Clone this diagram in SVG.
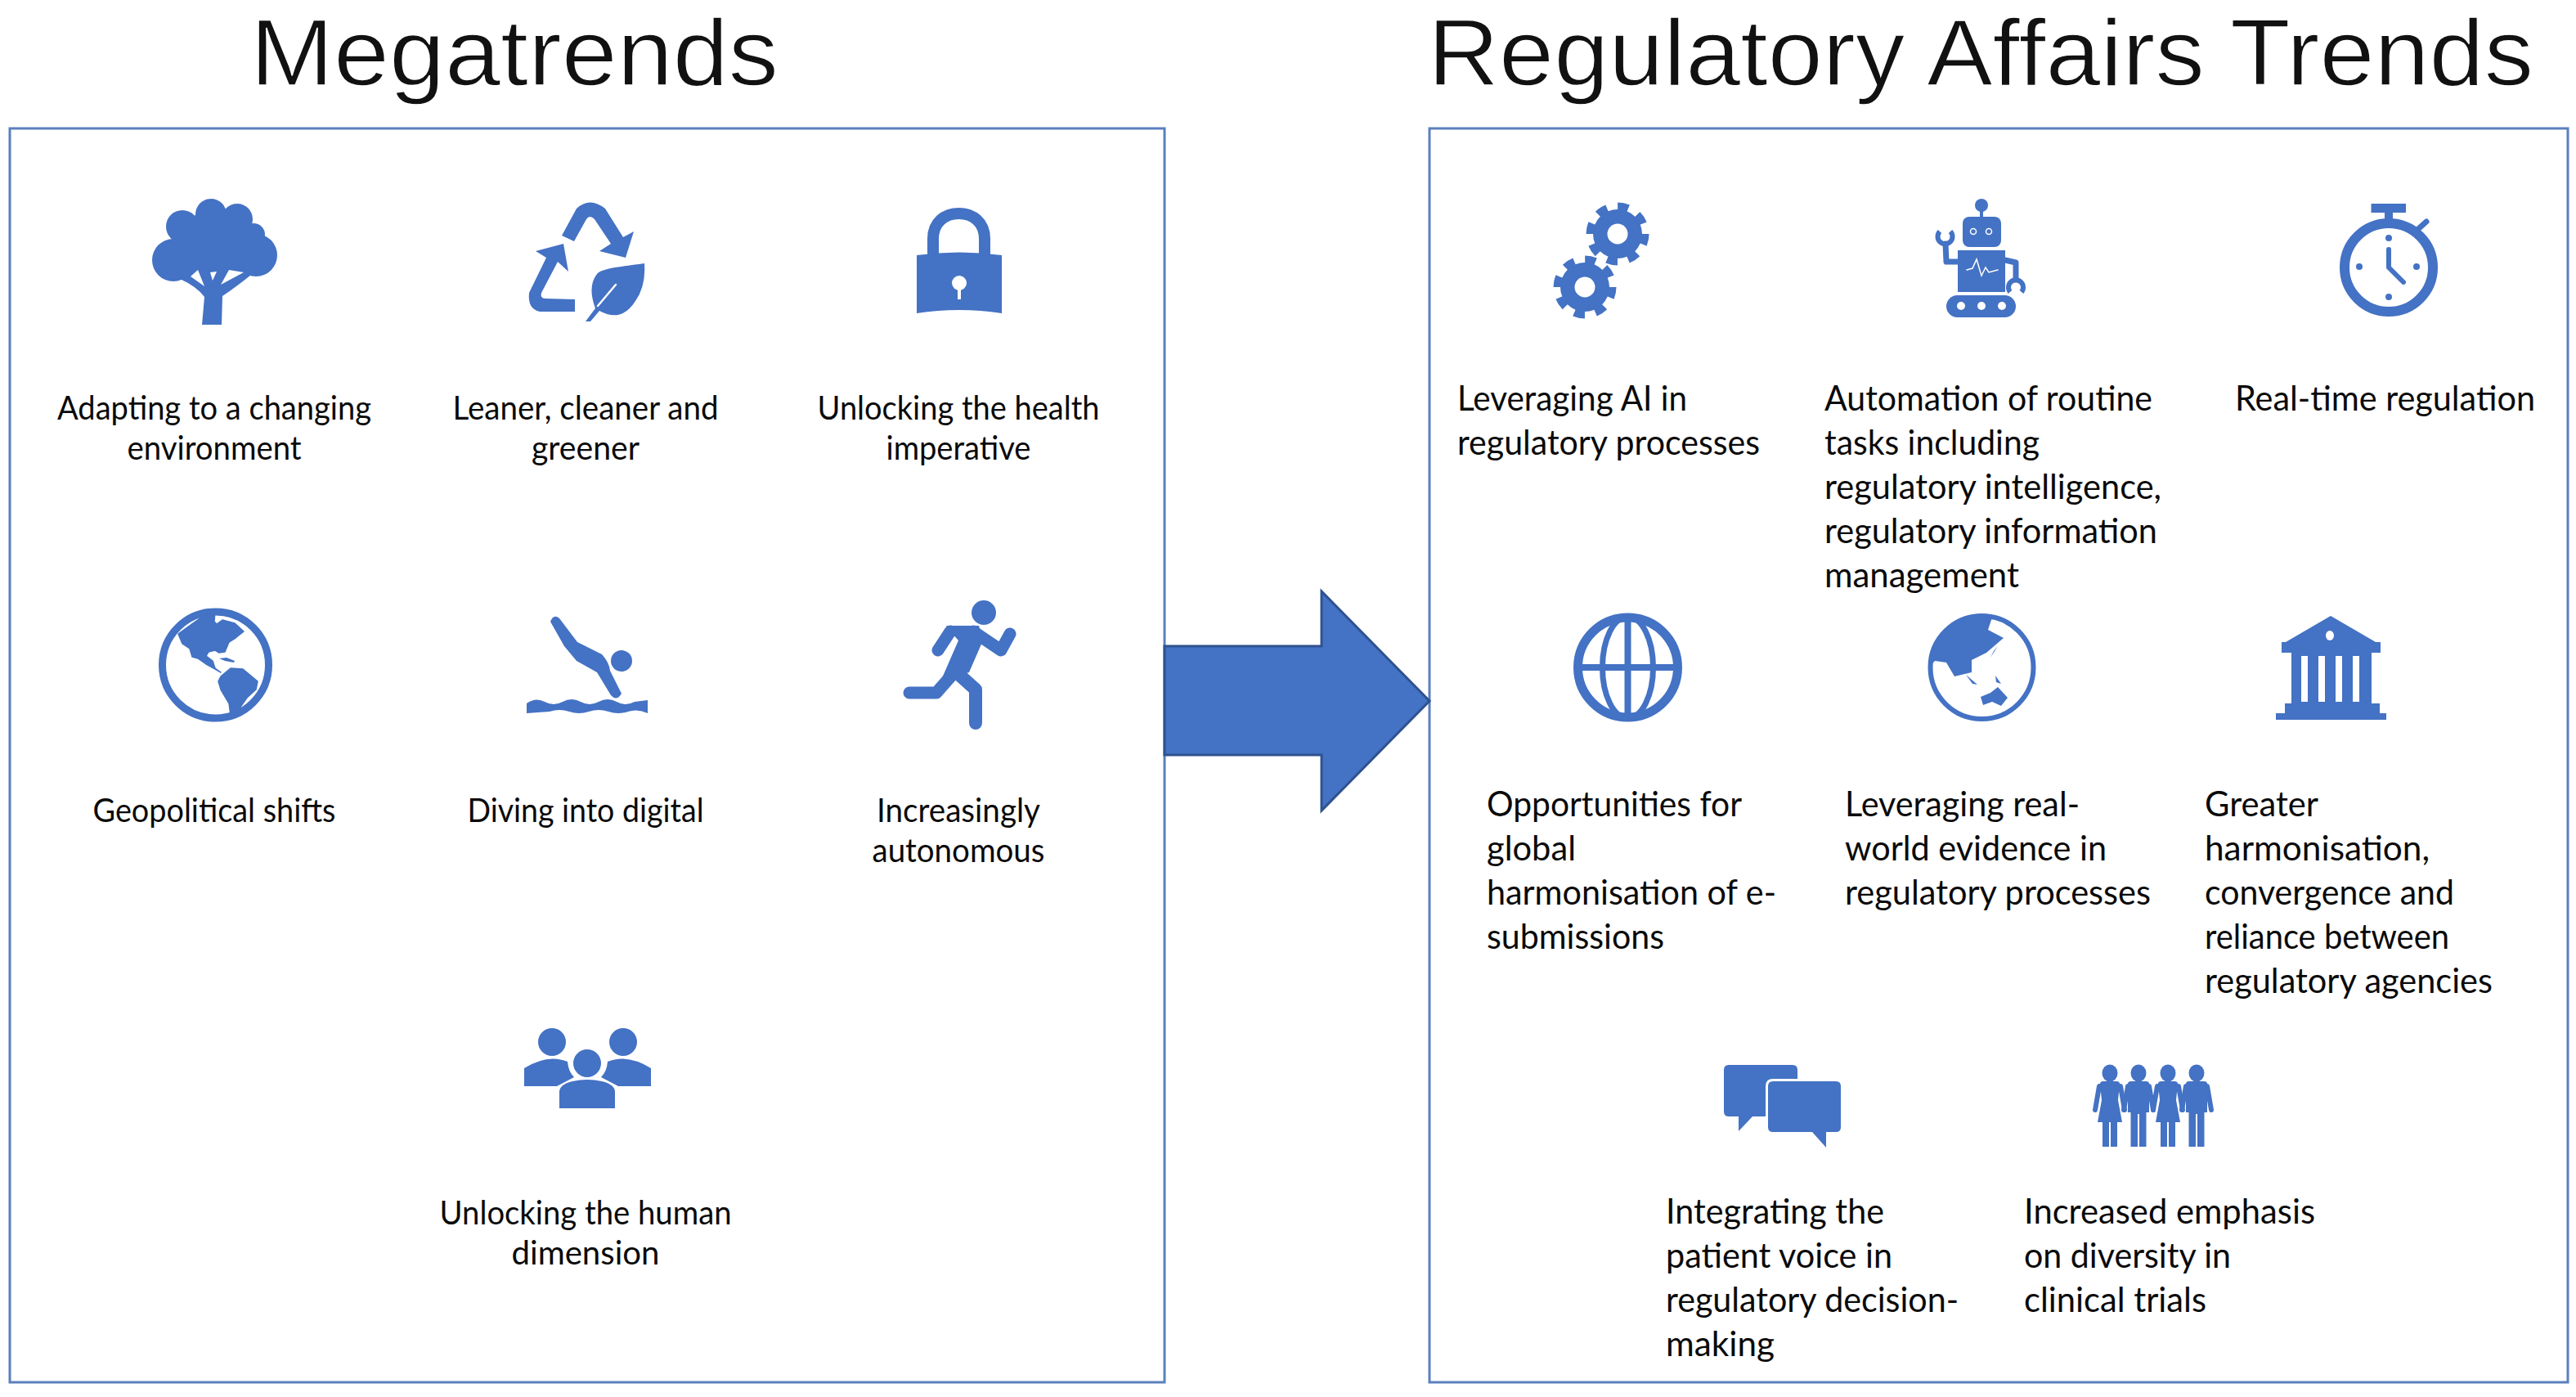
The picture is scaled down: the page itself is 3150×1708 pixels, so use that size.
<svg xmlns="http://www.w3.org/2000/svg" width="3150" height="1708" viewBox="0 0 3150 1708">
<style>
text{font-family:Lato,"Open Sans",sans-serif;fill:#0a0a0a}
.t{font-family:"Liberation Sans",Arial,sans-serif;font-size:115px;fill:#111;stroke:#fff;stroke-width:1.500px}
.l{font-size:40px;text-anchor:middle}
.r{font-size:43px}
.f{fill:#4472C4}
.s{fill:none;stroke:#4472C4;stroke-linecap:round;stroke-linejoin:round}
.b{fill:none;stroke:#4472C4;stroke-linecap:butt;stroke-linejoin:round}
.w{fill:#fff}
.ws{fill:none;stroke:#fff;stroke-linecap:round}
.p{fill:#fff;stroke:#5b80bd;stroke-width:3}
</style>
<defs>
<g id="man"><ellipse class="f" cx="0" cy="1312" rx="9.500" ry="10.500"/><path class="f" d="M-13 1325Q-13 1322-9 1322H9Q13 1322 13 1325V1360H9.500V1402H1V1362H-1V1402H-9.500V1360H-13Z"/><path class="s" stroke-width="6" d="M-13 1328L-18 1357M13 1328L18 1357"/></g>
<g id="woman"><ellipse class="f" cx="0" cy="1312" rx="9.500" ry="10.500"/><path class="f" d="M-12 1325Q-12 1322-8 1322H8Q12 1322 12 1325L10 1345L15 1372H9V1402H1V1372H-1V1402H-9V1372H-15L-10 1345Z"/><path class="s" stroke-width="6" d="M-13 1328L-18 1357M13 1328L18 1357"/></g>
</defs>
<rect width="3150" height="1708" fill="#fff"/>
<text class="t" x="306" y="104" textLength="646" lengthAdjust="spacingAndGlyphs">Megatrends</text>
<text class="t" x="1746" y="104" textLength="1352" lengthAdjust="spacingAndGlyphs">Regulatory Affairs Trends</text>
<rect id="panel-left" class="p" x="12" y="157" width="1412" height="1533"/>
<rect id="panel-right" class="p" x="1748" y="157" width="1392" height="1533"/>
<g id="connectors"><path d="M1424 790H1616V723L1748 857L1616 991V923H1424Z" fill="#4472C4" stroke="#2F528F" stroke-width="3"/></g>

<g id="m1">
<circle class="f" cx="258" cy="262" r="19"/><circle class="f" cx="223" cy="277" r="20"/><circle class="f" cx="290" cy="268" r="19"/><circle class="f" cx="212" cy="318" r="26"/><circle class="f" cx="313" cy="312" r="26"/><circle class="f" cx="310" cy="287" r="14"/><circle class="f" cx="262" cy="293" r="38"/>
<path class="f" d="M215 300H300L312 332Q290 350 272 362L271 397H247L250 363Q240 350 222 342Z"/>
<path class="w" d="M233 338L242 330L250 350Z"/><path class="w" d="M257 333L265 332L260 343Z"/><path class="w" d="M270 348L280 330L298 333Z"/>
<text class="l" x="262" y="513" textLength="384" lengthAdjust="spacingAndGlyphs">Adapting to a changing</text><text class="l" x="262" y="562" textLength="213" lengthAdjust="spacingAndGlyphs">environment</text></g>

<g id="m2">
<path class="f" d="M687 288L705 255Q721 240 740 255L762 290L775 283L765 315L733 307L747 298L727 268Q721 262 717 268L702 295Z"/>
<path class="f" d="M655 307L689 298L695 332L682 320L662 358Q660 365 667 365L703 366V381H660Q645 378 647 358L668 315Z"/>
<path class="f" d="M788 322C760 326 735 328 730 335Q718 350 728 377L716 393H722L733 380Q760 395 777 368Q790 350 788 322Z"/>
<path class="ws" stroke-width="2.500" d="M753 348L731 374"/>
<text class="l" x="716" y="513" textLength="325" lengthAdjust="spacingAndGlyphs">Leaner, cleaner and</text><text class="l" x="716" y="562" textLength="132" lengthAdjust="spacingAndGlyphs">greener</text></g>

<g id="m3">
<path class="s" stroke-width="14" d="M1141 315V292C1141 272 1155 261 1172.500 261C1190 261 1204 272 1204 292V315"/>
<path class="f" d="M1121 312Q1173 305 1225 312V383Q1173 375 1121 383Z"/>
<circle class="w" cx="1173" cy="346" r="9"/><rect class="w" x="1171" y="346" width="4" height="20"/>
<text class="l" x="1172" y="513" textLength="345" lengthAdjust="spacingAndGlyphs">Unlocking the health</text><text class="l" x="1172" y="562" textLength="177" lengthAdjust="spacingAndGlyphs">imperative</text></g>

<g id="m4">
<circle class="s" cx="263.500" cy="813" r="65" stroke-width="9"/>
<path class="f" stroke="#4472C4" stroke-width="1.500" stroke-linejoin="round" d="M218 775L243 757L263 747L262 760L265 763L272 758L287 762L298 772L288 780L280 785L275 797L268 798L263 795L255 797L252 802L260 808L263 817L270 822L263 818L252 812L242 805L235 803L232 793L223 787Z"/>
<path class="f" d="M268 805L277 804L287 808L286 810L275 808Z"/>
<path class="f" stroke="#4472C4" stroke-width="1.500" stroke-linejoin="round" d="M270 827L282 817L297 818L315 833L313 843L302 853L295 863L290 875L282 875L280 860L270 843L267 833Z"/>
<text class="l" x="262" y="1005" textLength="297" lengthAdjust="spacingAndGlyphs">Geopolitical shifts</text></g>

<g id="m5">
<path class="f" d="M673 760Q677 750 684 756L706 785L736 800Q745 810 746 820L760 848Q754 858 747 850L730 822L705 808L690 790Z"/>
<circle class="f" cx="760" cy="808" r="13"/>
<path class="f" d="M644 860Q655 852 666 858T688 858T710 858T732 858T754 858T776 858L792 856V872Q780 866 768 870T744 870T720 870T696 870T672 870L644 872Z"/>
<text class="l" x="716" y="1005" textLength="289" lengthAdjust="spacingAndGlyphs">Diving into digital</text></g>

<g id="m6">
<circle class="f" cx="1203" cy="749" r="15"/>
<path class="f" d="M1157 765H1197L1202 783L1185 822L1167 828L1153 838L1148 838L1172 783L1162 772Z"/>
<path class="s" stroke-width="15" d="M1162 772L1147 795M1190 772L1224 795L1235 775"/>
<path class="s" stroke-width="15" d="M1167 822L1145 847H1112"/>
<path class="s" stroke-width="16" d="M1173 825L1193 843V884"/>
<text class="l" x="1172" y="1005" textLength="200" lengthAdjust="spacingAndGlyphs">Increasingly</text><text class="l" x="1172" y="1054" textLength="211" lengthAdjust="spacingAndGlyphs">autonomous</text></g>

<g id="m7">
<circle class="f" cx="675" cy="1274" r="17"/><circle class="f" cx="762" cy="1274" r="17"/><circle class="f" cx="718" cy="1300" r="17"/>
<path class="f" d="M641 1328V1306Q670 1288 694 1298Q695 1310 702 1317L681 1328Z"/>
<path class="f" d="M796 1328V1306Q767 1288 743 1298Q742 1310 735 1317L756 1328Z"/>
<path class="f" d="M684 1355V1335Q684 1326 700 1322Q718 1318 736 1322Q752 1326 752 1335V1355Z"/>
<text class="l" x="716" y="1497" textLength="357" lengthAdjust="spacingAndGlyphs">Unlocking the human</text><text class="l" x="716" y="1546" textLength="181" lengthAdjust="spacingAndGlyphs">dimension</text></g>

<g id="r1">
<circle class="f" cx="1978" cy="286" r="30"/><circle class="b" cx="1978" cy="286" r="33" stroke-width="11" stroke-dasharray="12.900 13"/><circle class="w" cx="1978" cy="286" r="12.500"/>
<circle class="f" cx="1938" cy="351" r="30"/><circle class="b" cx="1938" cy="351" r="33" stroke-width="11" stroke-dasharray="12.900 13"/><circle class="w" cx="1938" cy="351" r="12.500"/>
<text class="r" x="1782" y="502" textLength="281" lengthAdjust="spacingAndGlyphs">Leveraging AI in</text><text class="r" x="1782" y="556" textLength="370" lengthAdjust="spacingAndGlyphs">regulatory processes</text></g>

<g id="r2">
<circle class="f" cx="2423" cy="251" r="8"/><rect class="f" x="2421" y="251" width="4" height="16"/>
<rect class="f" x="2400" y="265" width="47" height="37" rx="8"/>
<circle class="ws" cx="2413" cy="283" r="3.500" stroke-width="1.500"/><circle class="ws" cx="2432" cy="283" r="3.500" stroke-width="1.500"/>
<rect class="f" x="2394" y="306" width="58" height="51"/>
<path class="ws" stroke-width="1.500" d="M2405 330L2412 328L2417 317L2423 337L2428 327L2432 333L2443 330"/>
<rect class="f" x="2380" y="361" width="85" height="27" rx="13.500"/>
<circle class="w" cx="2398" cy="374" r="5"/><circle class="w" cx="2423" cy="374" r="5"/><circle class="w" cx="2448" cy="374" r="5"/>
<path class="s" stroke-width="7" d="M2394 320H2380L2379 298"/><path class="b" stroke-width="6" d="M2372 283A9 9 0 1 0 2385 283"/>
<path class="s" stroke-width="7" d="M2452 318L2465 321V342"/><path class="b" stroke-width="6" d="M2458 357A9 9 0 1 1 2472 357"/>
<text class="r" x="2231" y="502" textLength="401" lengthAdjust="spacingAndGlyphs">Automation of routine</text><text class="r" x="2231" y="556" textLength="263" lengthAdjust="spacingAndGlyphs">tasks including</text><text class="r" x="2231" y="610" textLength="412" lengthAdjust="spacingAndGlyphs">regulatory intelligence,</text><text class="r" x="2231" y="664" textLength="407" lengthAdjust="spacingAndGlyphs">regulatory information</text><text class="r" x="2231" y="718" textLength="238" lengthAdjust="spacingAndGlyphs">management</text></g>

<g id="r3">
<circle class="s" cx="2921" cy="327" r="54" stroke-width="12"/>
<rect class="f" x="2899.500" y="249" width="42.500" height="11"/><rect class="f" x="2916" y="260" width="10" height="10"/>
<path class="s" stroke-width="7" d="M2957 280L2967 271"/>
<path class="s" stroke-width="6" d="M2921 305V327L2939 345"/>
<circle class="f" cx="2921" cy="291" r="4"/><circle class="f" cx="2955" cy="326" r="4"/><circle class="f" cx="2921" cy="363" r="4"/><circle class="f" cx="2885" cy="326" r="4"/>
<text class="r" x="2733" y="502" textLength="367" lengthAdjust="spacingAndGlyphs">Real-time regulation</text></g>

<g id="r4">
<circle class="s" cx="1990.500" cy="816" r="61" stroke-width="11"/><ellipse class="s" cx="1990.500" cy="816" rx="31" ry="62" stroke-width="7"/>
<path class="b" stroke-width="8" d="M1990.500 754V878M1928 816H2053"/>
<text class="r" x="1818" y="998" textLength="312" lengthAdjust="spacingAndGlyphs">Opportunities for</text><text class="r" x="1818" y="1052" textLength="109" lengthAdjust="spacingAndGlyphs">global</text><text class="r" x="1818" y="1106" textLength="354" lengthAdjust="spacingAndGlyphs">harmonisation of e-</text><text class="r" x="1818" y="1160" textLength="217" lengthAdjust="spacingAndGlyphs">submissions</text></g>

<g id="r5">
<circle class="s" cx="2423.500" cy="816" r="63" stroke-width="6"/>
<path class="f" d="M2361.500 813A62 62 0 0 1 2436 755L2431 770L2450 780L2429 798L2411 807L2411 822L2390 827L2380 810L2366 808Z"/>
<path class="f" d="M2404 825L2418 837L2412 836Z"/><path class="f" d="M2440 826L2447 836L2441 834Z"/><path class="f" d="M2438 796L2434 804L2443 790Z"/>
<path class="f" d="M2422 852L2434 847L2443 840L2455 853L2447 863L2436 858L2425 862Z"/>
<text class="r" x="2256" y="998" textLength="287" lengthAdjust="spacingAndGlyphs">Leveraging real-</text><text class="r" x="2256" y="1052" textLength="320" lengthAdjust="spacingAndGlyphs">world evidence in</text><text class="r" x="2256" y="1106" textLength="374" lengthAdjust="spacingAndGlyphs">regulatory processes</text></g>

<g id="r6">
<path class="f" d="M2850 753L2905 785H2911V798H2790V785H2795Z"/><ellipse class="w" cx="2849" cy="777" rx="5" ry="6"/>
<path class="f" d="M2802 798H2900V860H2910V872H2918V880H2783V872H2794V860H2802Z"/>
<rect class="w" x="2814" y="802" width="8" height="56"/><rect class="w" x="2835" y="802" width="8" height="56"/><rect class="w" x="2856" y="802" width="8" height="56"/><rect class="w" x="2877" y="802" width="8" height="56"/>
<text class="r" x="2696" y="998" textLength="139" lengthAdjust="spacingAndGlyphs">Greater</text><text class="r" x="2696" y="1052" textLength="275" lengthAdjust="spacingAndGlyphs">harmonisation,</text><text class="r" x="2696" y="1106" textLength="305" lengthAdjust="spacingAndGlyphs">convergence and</text><text class="r" x="2696" y="1160" textLength="299" lengthAdjust="spacingAndGlyphs">reliance between</text><text class="r" x="2696" y="1214" textLength="352" lengthAdjust="spacingAndGlyphs">regulatory agencies</text></g>

<g id="r7">
<path class="f" d="M2114 1302H2192Q2198 1302 2198 1308V1365H2143L2126 1383V1365H2114Q2108 1365 2108 1359V1308Q2108 1302 2114 1302Z"/>
<path class="f" stroke="#fff" stroke-width="6" paint-order="stroke" d="M2168 1322H2245Q2251 1322 2251 1328V1378Q2251 1384 2245 1384H2233V1403L2216 1384H2168Q2162 1384 2162 1378V1328Q2162 1322 2168 1322Z"/>
<text class="r" x="2037" y="1496" textLength="267" lengthAdjust="spacingAndGlyphs">Integrating the</text><text class="r" x="2037" y="1550" textLength="277" lengthAdjust="spacingAndGlyphs">patient voice in</text><text class="r" x="2037" y="1604" textLength="358" lengthAdjust="spacingAndGlyphs">regulatory decision-</text><text class="r" x="2037" y="1658" textLength="133" lengthAdjust="spacingAndGlyphs">making</text></g>

<g id="r8">
<use href="#woman" x="2580"/><use href="#man" x="2615"/><use href="#woman" x="2651"/><use href="#man" x="2686"/>
<text class="r" x="2475" y="1496" textLength="356" lengthAdjust="spacingAndGlyphs">Increased emphasis</text><text class="r" x="2475" y="1550" textLength="253" lengthAdjust="spacingAndGlyphs">on diversity in</text><text class="r" x="2475" y="1604" textLength="223" lengthAdjust="spacingAndGlyphs">clinical trials</text></g>
</svg>
